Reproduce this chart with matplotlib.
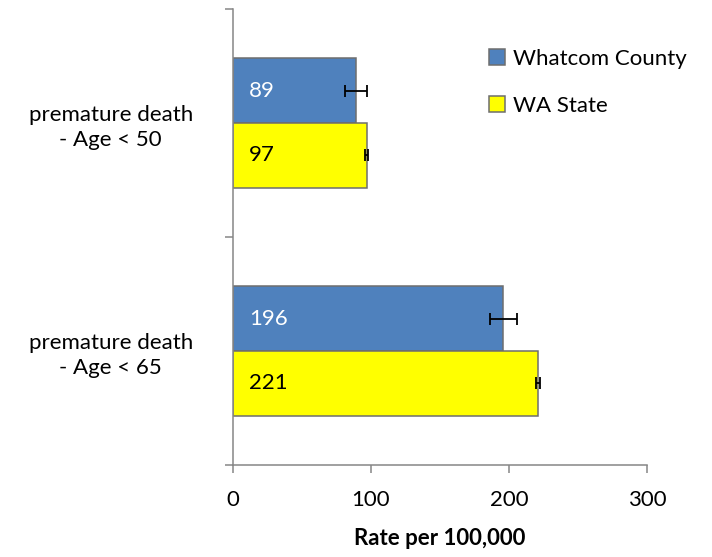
import numpy as np
import matplotlib
matplotlib.use('Agg')
import matplotlib.pyplot as plt

categories = ['premature death\n- Age < 50', 'premature death\n- Age < 65']
series = ['Whatcom County', 'WA State']
whatcom = [89, 196]
whatcom_err = [8, 9.5]
wa_state = [97, 221]
wa_err = [1, 1.5]

plt.rcParams['font.family'] = ['Lato', 'DejaVu Sans']
fs = 16

fig = plt.figure(figsize=(7.12, 5.57), dpi=100)
ax = fig.add_axes([233/712, 1 - 465/557, 414/712, 456/557])

y = np.arange(len(categories))
h = 0.285
edge = '#6e6e6e'

b1 = ax.barh(y - h/2, whatcom, height=h, color='#4F81BD', edgecolor=edge, linewidth=1.1,
             xerr=whatcom_err, error_kw=dict(ecolor='black', elinewidth=1.3, capsize=4.3, capthick=1.3),
             label=series[0])
b2 = ax.barh(y + h/2, wa_state, height=h, color='#FFFF00', edgecolor=edge, linewidth=1.1,
             xerr=wa_err, error_kw=dict(ecolor='black', elinewidth=1.3, capsize=4.3, capthick=1.3),
             label=series[1])

for yy, v in zip(y - h/2, whatcom):
    ax.annotate(str(v), (0, yy), xytext=(16, 0), textcoords='offset pixels',
                va='center', ha='left', color='white', fontsize=fs)
for yy, v in zip(y + h/2, wa_state):
    ax.annotate(str(v), (0, yy), xytext=(16, 0), textcoords='offset pixels',
                va='center', ha='left', color='black', fontsize=fs)

ax.set_xlim(0, 300)
ax.set_ylim(1.5, -0.5)
ax.set_xticks([0, 100, 200, 300])
ax.tick_params(axis='x', labelsize=fs, length=6, width=1.1, color='#868686', pad=12)

# category boundaries as ticks, labels centred in between
ax.set_yticks([-0.5, 0.5, 1.5])
ax.set_yticklabels([])
ax.set_yticks(y, minor=True)
ax.set_yticklabels(categories, minor=True, fontsize=fs, ha='center', linespacing=1.3)
ax.tick_params(axis='y', which='major', length=6, width=1.1, color='#868686')
ax.tick_params(axis='y', which='minor', length=0, pad=88)

for s in ['top', 'right']:
    ax.spines[s].set_visible(False)
for s in ['left', 'bottom']:
    ax.spines[s].set_color('#868686')
    ax.spines[s].set_linewidth(1.1)

ax.set_xlabel('Rate per 100,000', fontsize=fs, fontweight='bold', labelpad=13)

ax.legend(handles=[b1, b2], loc='upper left', bbox_to_anchor=(489/712, 1 - 49/557),
          bbox_transform=fig.transFigure, frameon=False, fontsize=fs,
          handlelength=0.72, handleheight=0.72, handletextpad=0.35,
          labelspacing=1.2, borderpad=0, borderaxespad=0)

fig.savefig('out.png', dpi=100)
